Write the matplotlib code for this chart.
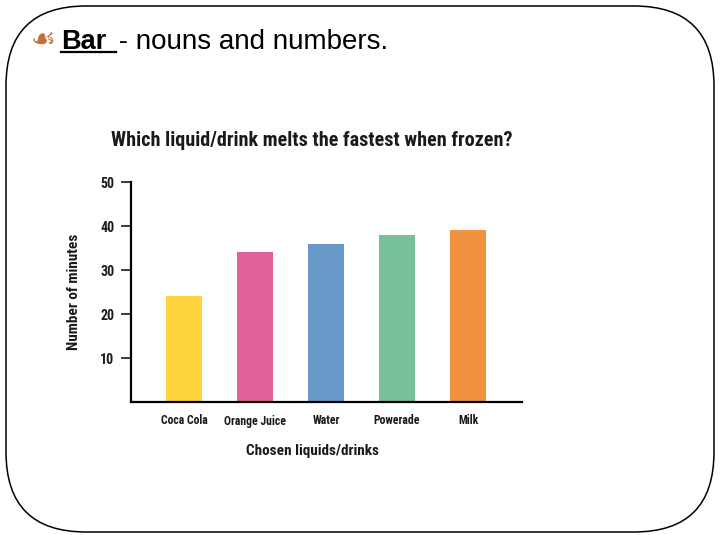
import matplotlib
matplotlib.use('Agg')
from matplotlib import pyplot as plt
from matplotlib.patches import FancyBboxPatch
from matplotlib.lines import Line2D

drinks = ['Coca Cola', 'Orange Juice', 'Water', 'Powerade', 'Milk']
minutes = [24, 34, 36, 38, 39]
colors = ['#FDD23C', '#E2609B', '#6699CA', '#76C09B', '#F09240']
yticks = [10, 20, 30, 40, 50]

narrow = ['Roboto Condensed', 'DejaVu Sans']

fig = plt.figure(figsize=(7.2, 5.4), dpi=100, facecolor='white')

# slide frame with rounded corners
bg = fig.add_axes([0, 0, 1, 1])
bg.set_xlim(0, 720)
bg.set_ylim(540, 0)
bg.axis('off')
bg.add_patch(FancyBboxPatch((6, 6), 708, 526,
                            boxstyle='round,pad=0,rounding_size=80',
                            fill=False, ec='black', lw=1.1))

# slide heading
bg.text(31, 48, '\u2619', fontsize=20, color='#C0703A', family='DejaVu Sans',
        va='baseline')
bg.text(61, 49, 'Bar', fontsize=19.5, fontweight='bold', family='Liberation Sans',
        va='baseline')
bg.text(111, 49, ' - nouns and numbers.', fontsize=20, family='Liberation Sans',
        va='baseline')
bg.add_line(Line2D([61, 116], [52, 52], color='black', lw=1.6))

# bar chart
ax = fig.add_axes([131 / 720, 1 - 402 / 540, (522 - 131) / 720, 220 / 540])
pos = range(len(drinks))
ax.bar(pos, minutes, width=0.507, color=colors)
ax.set_xlim(-0.746, 4.76)
ax.set_ylim(0, 50)
ax.set_yticks(yticks)
ax.set_yticklabels([str(t) for t in yticks], family=narrow, fontweight='bold',
                   fontsize=10)
ax.set_xticks(list(pos))
ax.set_xticklabels(drinks, family=narrow, fontweight='bold', fontsize=8.5)
ax.tick_params(axis='y', length=7, width=1.2, pad=5, colors='#1a1a1a')
ax.tick_params(axis='x', length=0, pad=9, colors='#1a1a1a')
for s in ['top', 'right']:
    ax.spines[s].set_visible(False)
ax.spines['left'].set_linewidth(1.6)
ax.spines['bottom'].set_linewidth(1.6)
ax.set_ylabel('Number of minutes', family=narrow, fontweight='bold',
              fontsize=11, labelpad=14, color='#1a1a1a')
ax.set_xlabel('Chosen liquids/drinks', family=narrow, fontweight='bold',
              fontsize=11, labelpad=12, x=0.463, color='#1a1a1a')
ax.set_title('Which liquid/drink melts the fastest when frozen?', family=narrow,
             fontweight='bold', fontsize=14.5, pad=26, x=0.463, color='#1a1a1a')

fig.savefig('out.png', dpi=100, facecolor='white')
